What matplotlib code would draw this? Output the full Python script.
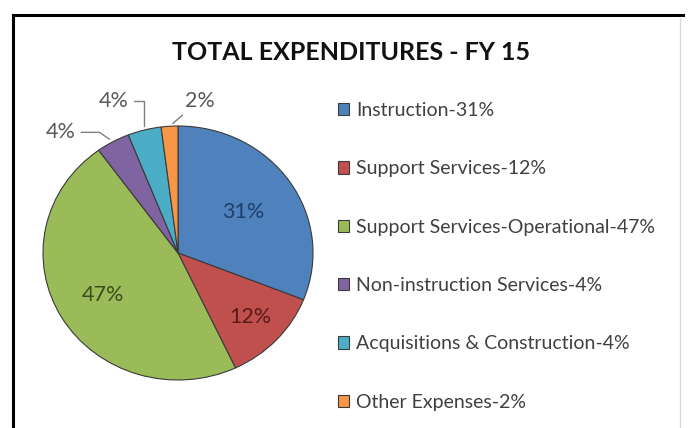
import numpy as np
import matplotlib.pyplot as plt
from matplotlib.lines import Line2D

# FY 15 expenditure shares (percent)
categories = ["Instruction", "Support Services", "Support Services-Operational",
              "Non-instruction Services", "Acquisitions & Construction", "Other Expenses"]
shares = [31, 12, 47, 4, 4, 2]
colors = ["#4F81BD", "#C0504D", "#9BBB59", "#8064A2", "#4BACC6", "#F79646"]
label_colors = ["#1F3F6A", "#5A1A18", "#3C4D1C", "#595959", "#595959", "#595959"]

plt.rcParams['font.family'] = ['Lato', 'DejaVu Sans']

W, H = 690, 428
fig = plt.figure(figsize=(W / 100, H / 100), dpi=100)
fig.patch.set_facecolor("white")

# outer frame: black on top and left, faint gray on the right
fig.add_artist(Line2D([13 / W, 683 / W], [1 - 15 / H, 1 - 15 / H], color="black", lw=2.2))
fig.add_artist(Line2D([13 / W, 13 / W], [0, 1 - 15 / H], color="black", lw=2.2))
fig.add_artist(Line2D([680 / W, 680 / W], [0, 1 - 18 / H], color="#d9d9d9", lw=1))

fig.text(351 / W, 1 - 52 / H, "TOTAL EXPENDITURES - FY 15", ha="center", va="center",
         fontsize=18, fontweight="bold", color="#111111")

# pie axes (slightly wider than tall)
cx, cy, rx, ry = 178, 253, 135, 127
ax = fig.add_axes([(cx - rx) / W, 1 - (cy + ry) / H, 2 * rx / W, 2 * ry / H])
wedges, _ = ax.pie(shares, colors=colors, startangle=90, counterclock=False,
                   wedgeprops=dict(edgecolor="#3a3a3a", linewidth=0.8))
ax.set_aspect("auto")
ax.set_xlim(-1, 1)
ax.set_ylim(-1, 1)
ax.axis("off")

# inner labels for the three big slices
inner_r = [0.58, 0.74, 0.65]
for w, r, val, c in zip(wedges[:3], inner_r, shares[:3], label_colors[:3]):
    mid = np.deg2rad((w.theta1 + w.theta2) / 2)
    ax.text(r * np.cos(mid), r * np.sin(mid), f"{val}%", ha="center", va="center",
            fontsize=15.5, color=c)

# outside labels with bent leader lines for the small slices
outer_pos = [(-0.87, 0.95), (-0.48, 1.20), (0.16, 1.20)]
leader_styles = ["angle,angleA=0,angleB=145,rad=0",
                 "angle,angleA=0,angleB=90,rad=0",
                 "arc3,rad=0"]
for w, pos, style, val, c in zip(wedges[3:], outer_pos, leader_styles, shares[3:], label_colors[3:]):
    mid = np.deg2rad((w.theta1 + w.theta2) / 2)
    ax.annotate(f"{val}%", xy=(np.cos(mid), np.sin(mid)), xytext=pos,
                ha="center", va="center", fontsize=15.5, color=c, annotation_clip=False,
                arrowprops=dict(arrowstyle="-", color="#7f7f7f", lw=1,
                                connectionstyle=style, shrinkA=2, shrinkB=3))

legend_labels = [f"{n}-{v}%" for n, v in zip(categories, shares)]
leg = fig.legend(wedges, legend_labels, loc="upper left",
                 bbox_to_anchor=(330 / W, 1 - 94 / H), frameon=False,
                 fontsize=14, labelcolor="#404040", handlelength=0.6, handleheight=0.6,
                 handletextpad=0.35, labelspacing=2.13, borderaxespad=0)

fig.savefig("out.png", dpi=100)
